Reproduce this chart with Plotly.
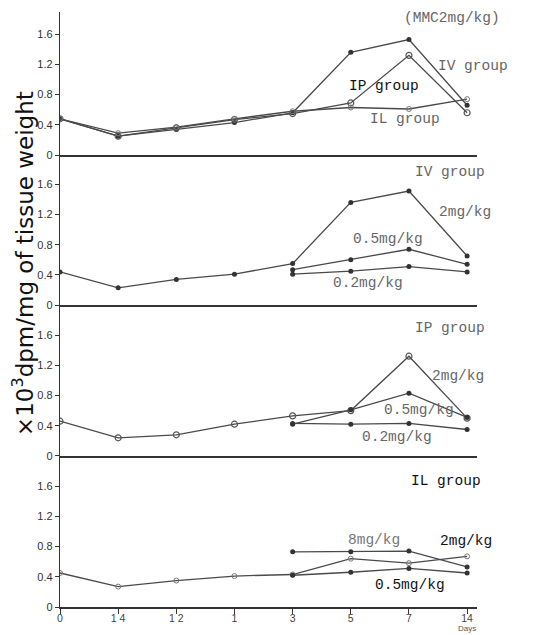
import plotly.graph_objects as go
from plotly.subplots import make_subplots

x_labels = ["0", "1 4", "1 2", "1", "3", "5", "7", "14"]
x_unit = "Days"
x_idx = list(range(len(x_labels)))

# Panel 1: MMC 2mg/kg by route
mmc_iv = [0.48, 0.25, 0.34, 0.43, 0.56, 1.36, 1.53, 0.66]
mmc_ip = [0.48, 0.25, 0.36, 0.47, 0.55, 0.69, 1.32, 0.56]
mmc_il = [0.48, 0.29, 0.37, 0.48, 0.58, 0.63, 0.61, 0.74]

# Panel 2: IV group
iv_2 = [0.44, 0.23, 0.34, 0.41, 0.55, 1.36, 1.51, 0.65]
iv_05 = [None, None, None, None, 0.47, 0.60, 0.74, 0.54]
iv_02 = [None, None, None, None, 0.41, 0.45, 0.51, 0.44]

# Panel 3: IP group
ip_2 = [0.46, 0.24, 0.28, 0.42, 0.53, 0.60, 1.32, 0.50]
ip_05 = [None, None, None, None, 0.42, 0.61, 0.83, 0.51]
ip_02 = [None, None, None, None, 0.43, 0.42, 0.43, 0.35]

# Panel 4: IL group
il_2 = [0.45, 0.27, 0.35, 0.41, 0.43, 0.64, 0.58, 0.67]
il_8 = [None, None, None, None, 0.73, 0.73, 0.74, 0.53]
il_05 = [None, None, None, None, 0.42, 0.46, 0.51, 0.45]

y_ticks = [0, 0.4, 0.8, 1.2, 1.6]
y_ticktext = ["0", "0.4", "0.8", "1.2", "1.6"]

# page body has a default 8px margin; lay out in reference pixel coordinates
OFF = 8
W, H = 550 - OFF, 635 - OFF
L = 60 - OFF
T = 12 - OFF
plot_right = 477 - OFF
plot_bottom = 606.7 - OFF
R = W - plot_right
B = H - plot_bottom
plot_w = W - L - R
plot_h = H - T - B
zeros_px = [155, 305, 455.7, 606.7]
tops_px = [12, 155, 305, 455.7]
PX_PER_UNIT = 75.5

fig = make_subplots(rows=4, cols=1, shared_xaxes=True, vertical_spacing=0)

LINE = "#4a4a4a"
filled = dict(symbol="circle", size=5, color="#333333")
opened = dict(symbol="circle-open", size=6, color="#555555", line=dict(width=1.2))
small_open = dict(symbol="circle-open", size=5, color="#777777", line=dict(width=1))


def add(row, y, marker):
    fig.add_trace(go.Scatter(x=x_idx, y=y, mode="lines+markers",
                             line=dict(color=LINE, width=1.3),
                             marker=marker, showlegend=False,
                             connectgaps=False), row=row, col=1)


add(1, mmc_iv, filled)
add(1, mmc_ip, opened)
add(1, mmc_il, small_open)
add(2, iv_2, filled)
add(2, iv_05, filled)
add(2, iv_02, filled)
add(3, ip_2, opened)
add(3, ip_05, filled)
add(3, ip_02, filled)
add(4, il_2, small_open)
add(4, il_8, filled)
add(4, il_05, filled)


def py2paper(py):
    return (H - B - (py - OFF)) / plot_h


def px2paper(px):
    return ((px - OFF) - L) / plot_w


for i in range(4):
    row = i + 1
    y0 = py2paper(zeros_px[i])
    y1 = py2paper(tops_px[i])
    rng_top = (zeros_px[i] - tops_px[i]) / PX_PER_UNIT
    yname = "yaxis" if row == 1 else f"yaxis{row}"
    fig.layout[yname].update(
        domain=[max(0, y0), min(1, y1)], range=[0, rng_top], tickvals=y_ticks,
        ticktext=y_ticktext, showline=True, linecolor="#333", linewidth=1.3,
        ticks="outside", ticklen=4, tickcolor="#333", showgrid=False, zeroline=False,
        tickfont=dict(family="Liberation Sans", size=11, color="#333"))
    xname = "xaxis" if row == 1 else f"xaxis{row}"
    fig.layout[xname].update(
        range=[0, 7.17], showline=True, linecolor="#333", linewidth=1.5,
        showgrid=False, zeroline=False, tickvals=x_idx, ticktext=x_labels,
        showticklabels=(row == 4), ticks="outside" if row == 4 else "",
        ticklen=5, tickcolor="#333", automargin=False, ticklabelstandoff=-4,
        tickfont=dict(family="Liberation Sans", size=10.5, color="#444"))


def ann(text, px, py, color="#555", size=14.5, family="Liberation Mono"):
    fig.add_annotation(text=text, xref="paper", yref="paper",
                       x=px2paper(px), y=py2paper(py),
                       showarrow=False, xanchor="center", yanchor="middle",
                       font=dict(family=family, size=size, color=color))


ann("(MMC2mg/kg)", 452, 18, "#666")
ann("IV group", 473, 66, "#666")
ann("IP group", 384, 86, "#111")
ann("IL group", 405, 119, "#666")
ann("IV group", 450, 172, "#666")
ann("2mg/kg", 465, 212, "#666")
ann("0.5mg/kg", 388, 239, "#666")
ann("0.2mg/kg", 368, 283, "#666")
ann("IP group", 450, 328, "#666")
ann("2mg/kg", 458, 376, "#666")
ann("0.5mg/kg", 419, 410, "#666")
ann("0.2mg/kg", 397, 437, "#666")
ann("IL group", 446, 481, "#111")
ann("8mg/kg", 374, 540, "#777")
ann("2mg/kg", 466, 541, "#111")
ann("0.5mg/kg", 410, 585, "#111")
fig.add_annotation(text=x_unit, xref="paper", yref="paper",
                   x=px2paper(467), y=py2paper(635), showarrow=False,
                   xanchor="center", yanchor="bottom",
                   font=dict(family="Liberation Sans", size=8, color="#555"))

fig.add_annotation(text="×10<sup>3</sup>dpm/mg of tissue weight", xref="paper", yref="paper",
                   x=px2paper(23), y=py2paper(264), textangle=-90,
                   showarrow=False, xanchor="center", yanchor="middle",
                   font=dict(family="DejaVu Sans", size=23, color="#111"))

fig.update_layout(width=W, height=H, margin=dict(l=L, r=R, t=T, b=B),
                  paper_bgcolor="white", plot_bgcolor="white")

fig.write_html("out.html")
